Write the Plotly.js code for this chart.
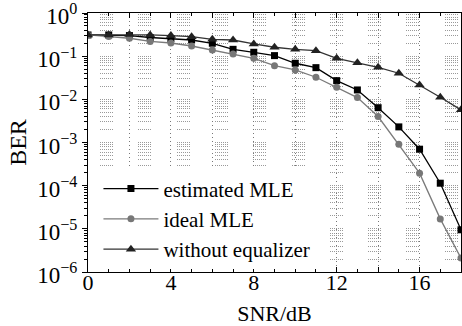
<!DOCTYPE html>
<html><head><meta charset="utf-8">
<script src="https://cdn.plot.ly/plotly-3.0.1.min.js"></script>
<style>html,body{margin:0;padding:0;background:#fff;} #chart{width:462px;height:326px;}</style>
</head><body><div id="chart"></div>
<script>
// ---- data ----
const snr = [0,1,2,3,4,5,6,7,8,9,10,11,12,13,14,15,16,17,18];
const estimatedMLE = [0.31,0.31,0.30,0.271,0.257,0.237,0.199,0.144,0.123,0.103,0.0685,0.0542,0.0271,0.0165,0.0064,0.0023,0.0007,0.000114,0.0000095];
const idealMLE = [0.31,0.286,0.26,0.219,0.202,0.172,0.139,0.112,0.0894,0.0603,0.0479,0.0325,0.019,0.011,0.004,0.00091,0.000195,0.000017,0.0000021];
const withoutEqualizer = [0.31,0.31,0.318,0.31,0.30,0.283,0.246,0.237,0.192,0.161,0.144,0.134,0.0894,0.0707,0.0553,0.0402,0.0215,0.0112,0.0057];
const seriesNames = ['estimated MLE','ideal MLE','without equalizer'];
const xTickValues = [0,2,4,6,8,10,12,14,16,18];
const xTickLabels = ['0','','4','','8','','12','','16',''];
const yTickValues = [1,0.1,0.01,0.001,0.0001,0.00001,0.000001];
const yTickLabels = ['10<sup>0</sup>','10<sup>\u22121</sup>','10<sup>\u22122</sup>','10<sup>\u22123</sup>','10<sup>\u22124</sup>','10<sup>\u22125</sup>','10<sup>\u22126</sup>'];

// minor log ticks (2..9 in each decade)
const yMinor = [];
yTickValues.slice(1).forEach(d => { for (let m = 2; m <= 9; m++) yMinor.push(d * m); });

const FONT = 'Liberation Serif, Times New Roman, serif';
const hDash = '0px,12px,1px,1px,1px,1px,1px,1px,1px,1px,1px,1px,1px,1px,1px,13.3px';

const traces = [
  {x: snr, y: estimatedMLE, name: seriesNames[0], mode: 'lines+markers',
   line: {color: '#000', width: 1.3}, marker: {symbol: 'square', size: 7, color: '#000'}},
  {x: snr, y: idealMLE, name: seriesNames[1], mode: 'lines+markers',
   line: {color: '#7a7a7a', width: 1.3}, marker: {symbol: 'circle', size: 7, color: '#777'}},
  {x: snr, y: withoutEqualizer, name: seriesNames[2], mode: 'lines+markers',
   line: {color: '#333', width: 1.3}, marker: {symbol: 'triangle-up', size: 9, color: '#222'}}
];

const layout = {
  width: 462, height: 326,
  margin: {l: 88, r: 1, t: 13, b: 54, pad: 0},
  paper_bgcolor: '#fff', plot_bgcolor: '#fff',
  font: {family: FONT, size: 22, color: '#000'},
  showlegend: true,
  legend: {x: 0.028, y: 0.40, xanchor: 'left', yanchor: 'top', bgcolor: '#fff',
           borderwidth: 0, font: {family: FONT, size: 21, color: '#000'}, itemwidth: 55,
           tracegroupgap: 0},
  xaxis: {
    range: [0, 18], tickmode: 'array', tickvals: xTickValues, ticktext: xTickLabels,
    ticks: 'inside', ticklen: 5, tickcolor: '#000', tickwidth: 1,
    showline: true, linecolor: '#000', linewidth: 1, mirror: 'ticks',
    showgrid: true, gridcolor: '#777', gridwidth: 1, griddash: '1px,3px',
    zeroline: false, ticklabelstandoff: -9,
    minor: {dtick: 1, tick0: 0, ticks: 'inside', ticklen: 3, tickcolor: '#000', showgrid: false},
    tickfont: {family: FONT, size: 22},
    title: {text: 'SNR/dB', font: {family: FONT, size: 22}, standoff: 14}
  },
  yaxis: {
    type: 'log', range: [-6, 0], tickmode: 'array', tickvals: yTickValues, ticktext: yTickLabels,
    ticks: 'outside', ticklen: 5, tickcolor: '#000', tickwidth: 1, ticklabeloverflow: 'allow',
    ticklabelshift: 3,
    showline: true, linecolor: '#000', linewidth: 1, mirror: 'ticks',
    showgrid: true, gridcolor: '#999', gridwidth: 1, griddash: hDash,
    zeroline: false,
    minor: {tickmode: 'array', tickvals: yMinor, ticks: 'outside', ticklen: 3, tickcolor: '#000',
            showgrid: true, gridcolor: '#999', gridwidth: 1, griddash: hDash},
    tickfont: {family: FONT, size: 23},
    title: {text: 'BER', font: {family: FONT, size: 24}, standoff: 3}
  }
};

Plotly.newPlot('chart', traces, layout, {displayModeBar: false, staticPlot: true});
</script>
</body></html>
